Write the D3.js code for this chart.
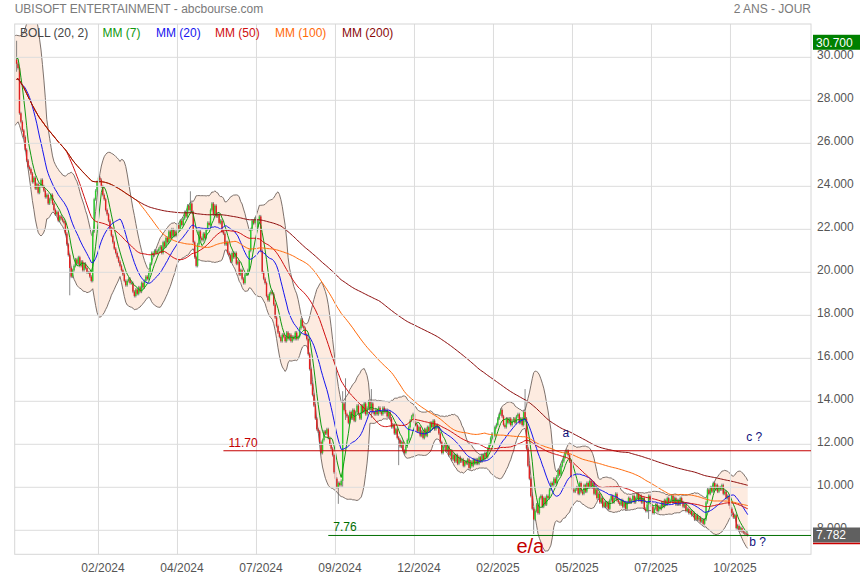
<!DOCTYPE html>
<html><head><meta charset="utf-8">
<script src="https://cdn.jsdelivr.net/npm/d3@7"></script>
<style>
body{margin:0;background:#fff}
svg{display:block}
text{font-family:Arial,"Liberation Sans",sans-serif}
</style>
</head><body>
<svg id="c" width="860" height="580"></svg>
<script>
// ---------------- DATA ----------------
const chartTitle = "UBISOFT ENTERTAINMENT - abcbourse.com";
const periodLabel = "2 ANS - JOUR";
// closes before the visible window (used only by the indicators)
const priorCloses = [27.2,27.5,27.9,27.6,28.1,28.4,28.9,29.3,29.0,29.6,30.1,30.4,29.8,30.2,29.9];
// daily closes of the visible window
const closes = [
29.7,29.5,27.4,27.0,26.6,26.3,25.7,25.2,24.9,24.8,
24.6,24.2,24.4,23.9,24.1,23.7,24.0,24.3,24.0,23.8,
23.5,23.6,23.2,23.4,23.6,23.2,22.9,22.7,22.8,22.4,
22.6,22.5,22.4,22.3,21.8,21.3,20.8,20.2,19.8,20.1,
20.3,20.6,20.4,20.7,20.3,20.5,20.1,20.4,20.2,20.0,
20.0,19.8,19.6,21.9,23.4,23.8,24.2,24.4,24.3,24.0,
23.6,23.4,22.9,22.7,22.4,22.0,21.7,21.4,21.1,20.9,
20.7,20.5,20.3,20.1,19.9,19.6,19.4,19.6,19.7,19.5,
19.5,19.1,18.9,19.2,19.0,19.3,19.1,19.5,19.3,19.6,
19.8,19.7,20.0,20.4,20.9,20.8,21.0,20.9,21.0,21.1,
21.2,20.9,21.4,21.2,21.6,21.4,21.9,21.6,22.0,21.7,
21.9,21.7,22.2,22.0,22.4,22.2,22.5,22.8,22.6,23.1,
22.9,23.2,22.8,21.4,20.7,20.3,21.3,21.9,21.6,21.5,
21.8,21.6,22.0,22.3,22.2,22.9,23.2,22.7,23.1,22.6,
22.7,22.3,22.4,21.9,21.8,21.3,21.4,20.9,20.8,20.5,
20.9,20.7,20.9,20.4,20.5,19.9,20.1,19.7,19.5,19.9,
19.9,20.1,21.0,22.0,22.4,22.3,22.5,22.1,22.4,22.6,
21.0,20.0,19.7,19.5,18.9,18.7,19.0,19.1,19.0,18.5,
17.9,17.5,17.2,17.0,16.8,17.1,17.0,16.8,17.2,16.9,
17.1,16.8,17.0,16.9,17.2,16.9,17.0,17.4,17.8,17.5,
17.4,17.1,16.9,16.2,15.5,14.8,14.3,13.8,13.2,12.7,
12.6,12.1,11.6,12.2,12.6,12.5,12.7,12.3,12.0,11.8,
11.5,10.7,10.4,10.0,10.2,10.1,10.3,13.9,13.6,13.4,
13.3,13.0,13.5,13.2,13.6,13.1,13.5,13.8,13.4,13.2,
13.8,13.5,13.9,13.4,13.7,14.0,13.6,13.9,13.5,13.4,
13.6,13.4,13.7,13.5,13.4,13.7,13.5,13.6,13.3,13.5,
13.2,12.8,12.9,12.5,12.7,12.3,12.2,11.9,12.1,11.7,
11.6,11.9,12.2,12.8,13.1,13.3,13.4,13.0,12.9,12.6,
12.8,12.4,12.6,12.3,12.7,12.4,12.8,12.6,13.0,12.8,
13.1,12.7,12.9,12.8,12.5,12.1,11.6,11.9,12.0,11.7,
11.9,11.5,11.7,11.3,11.5,11.2,11.5,11.1,11.4,11.2,
11.3,11.0,11.2,11.1,11.3,10.9,11.2,11.0,11.3,11.1,
11.3,11.1,11.4,11.2,11.5,11.3,11.6,11.4,11.8,12.0,
12.3,12.5,12.4,12.8,12.9,13.2,13.4,13.6,13.3,12.9,
12.8,13.2,13.0,13.2,12.9,13.1,13.2,13.0,13.3,13.4,
13.0,13.2,12.9,13.5,13.2,11.8,11.0,10.4,9.6,9.0,
8.5,8.9,9.2,8.8,9.5,9.6,9.1,9.5,9.2,9.6,
9.5,9.9,10.2,10.1,10.4,10.2,10.5,10.8,10.6,11.0,
11.2,11.4,11.6,11.7,11.5,11.2,10.5,9.9,9.8,9.9,
10.0,9.7,10.2,9.8,9.7,10.1,9.8,10.2,10.0,10.3,
10.0,10.2,9.7,9.9,9.5,9.7,9.3,9.5,9.1,9.3,
9.1,9.3,9.0,9.4,9.6,9.3,9.5,9.7,9.4,9.3,
9.2,9.4,9.1,9.3,9.0,9.3,9.5,9.3,9.4,9.6,
9.3,9.5,9.7,9.4,9.6,9.3,9.5,9.0,8.9,9.2,
9.6,9.4,9.1,8.8,9.0,9.2,8.9,9.1,9.0,9.3,
9.1,9.4,9.2,9.5,9.3,9.4,9.6,9.3,9.5,9.2,
9.4,9.2,9.5,9.3,9.1,9.2,8.9,9.0,8.8,8.9,
8.7,8.8,8.5,8.7,8.5,8.6,8.4,8.5,8.3,8.5,
9.3,9.9,9.7,10.0,9.8,10.2,9.9,10.1,9.8,10.0,
9.9,10.1,9.7,9.8,9.5,9.6,9.2,9.0,8.8,8.6,
8.7,8.1,8.2,8.0,8.1,7.95,7.9,7.85,7.82,7.782
];
// notable intraday extremes: [candle index, low, high]
const wickExtremes = [[0,29.4,30.7],[37,19.0,20.3],[121,22.8,23.7],[224,9.3,10.2],[227,10.1,14.4],[229,13.2,15.0],[247,13.3,14.5],[354,13.1,14.5],[360,7.9,8.9],[440,8.6,9.3],[266,11.1,12.2]];
const xTickIndex = [57,112,167,222,277,332,387,442,497];
const xTickLabels = ["02/2024","04/2024","07/2024","09/2024","12/2024","02/2025","05/2025","07/2025","10/2025"];
const yTickValues = [8,10,12,14,16,18,20,22,24,26,28,30];
const maPeriods = [7,20,50,100,200];
const maColors = ["#119911","#1515ee","#d01010","#ff6a0a","#8b0a0a"];
const levelValues = [11.70, 7.76];
const levelStartIndex = [144, 217];
const levelColors = ["#c40000","#006e00"];
const levelLabels = ["11.70","7.76"];
const notes = [{t:"a",i:380,v:12.35,c:"#10107a",s:12},{t:"c ?",i:508,v:12.15,c:"#10107a",s:12},{t:"b ?",i:510,v:7.25,c:"#10107a",s:12},{t:"e/a",i:348,v:6.95,c:"#c40000",s:20}];
const maxValue = 30.700, lastValue = 7.782;

// ---------------- CHART ----------------
const svg = d3.select("#c");
const L = 14.7, R = 811, T = 24, B = 554.3;
const x = d3.scaleLinear().domain([0, closes.length - 1]).range([16.6, 747.7]);
const y = d3.scaleLinear().domain([6.884, 31.55]).range([B, T]);

const P = priorCloses.length;
const all = priorCloses.concat(closes);
const win = (n, j) => all.slice(Math.max(0, j - n + 1), j + 1);
const sma = (n, j) => d3.mean(win(n, j));
const boll = j => { const w = win(20, j), m = d3.mean(w); const sd = Math.sqrt(d3.mean(w, v => (v - m) ** 2)); return [m - 2 * sd, m + 2 * sd]; };

svg.append("defs").append("clipPath").attr("id", "pc").append("rect")
  .attr("x", L).attr("y", T).attr("width", R - L).attr("height", B - T);

// titles
svg.append("text").attr("x", L).attr("y", 13).attr("font-size", 12).attr("fill", "#7a7a7a").text(chartTitle);
svg.append("text").attr("x", R).attr("y", 13).attr("text-anchor", "end").attr("font-size", 12).attr("fill", "#7a7a7a").text(periodLabel);

const plot = svg.append("g").attr("clip-path", "url(#pc)");

// bollinger band
const bandIdx = d3.range(-2, closes.length);
const bandData = bandIdx.map(i => { const b = boll(P + i); return {i, lo: b[0], hi: b[1]}; });
plot.append("path").datum(bandData)
  .attr("d", d3.area().x(d => x(d.i)).y0(d => y(d.lo)).y1(d => y(d.hi)))
  .attr("fill", "#fdebe0");

// grid
const grid = svg.append("g");
yTickValues.forEach(v => grid.append("line").attr("x1", L).attr("x2", R).attr("y1", y(v)).attr("y2", y(v)).attr("stroke", "#dcdcdc"));
xTickIndex.forEach(i => grid.append("line").attr("x1", x(i)).attr("x2", x(i)).attr("y1", T).attr("y2", B).attr("stroke", "#dcdcdc"));
svg.append("rect").attr("x", L).attr("y", T).attr("width", R - L).attr("height", B - T).attr("fill", "none").attr("stroke", "#d6d6d6");

// band outlines
["lo","hi"].forEach(k => plot.append("path").datum(bandData)
  .attr("d", d3.line().x(d => x(d.i)).y(d => y(d[k])))
  .attr("fill", "none").attr("stroke", "#6e625c").attr("stroke-width", 0.9));

// levels
levelValues.forEach((v, k) => {
  svg.append("line").attr("x1", x(levelStartIndex[k])).attr("x2", R).attr("y1", y(v)).attr("y2", y(v))
    .attr("stroke", levelColors[k]).attr("stroke-width", 1);
  svg.append("text").attr("x", x(levelStartIndex[k]) + 5).attr("y", y(v) - 4).attr("font-size", 12)
    .attr("fill", levelColors[k]).text(levelLabels[k]);
});

// candles
const ext = new Map(wickExtremes.map(d => [d[0], d]));
const candles = closes.map((c, i) => {
  const o = all[P + i - 1];
  let lo = Math.min(o, c), hi = Math.max(o, c);
  if (ext.has(i)) { lo = Math.min(lo, ext.get(i)[1]); hi = Math.max(hi, ext.get(i)[2]); }
  return {i, o, c, lo, hi};
});
const cg = plot.append("g");
cg.selectAll("line.w").data(candles).join("line")
  .attr("x1", d => x(d.i)).attr("x2", d => x(d.i))
  .attr("y1", d => y(d.hi) - 1.5).attr("y2", d => y(d.lo) + 1.5)
  .attr("stroke", "#555").attr("stroke-width", 0.7);
cg.selectAll("rect").data(candles).join("rect")
  .attr("x", d => x(d.i) - 0.7).attr("width", 1.4)
  .attr("y", d => y(Math.max(d.o, d.c)))
  .attr("height", d => Math.max(1, Math.abs(y(d.o) - y(d.c))))
  .attr("fill", d => d.c >= d.o ? "#2bd12b" : "#e02020");

// moving averages
maPeriods.forEach((n, k) => {
  const pts = d3.range(0, closes.length).map(i => ({i, v: sma(n, P + i)}));
  plot.append("path").datum(pts).attr("d", d3.line().x(d => x(d.i)).y(d => y(d.v)))
    .attr("fill", "none").attr("stroke", maColors[k]).attr("stroke-width", 1);
});

// legend
const legendItems = ["BOLL (20, 2)", ...maPeriods.map(n => `MM (${n})`)];
const legendColors = ["#444", ...maColors];
const legendX = [20, 102.5, 156, 215, 275, 342];
legendItems.forEach((t, k) => svg.append("text").attr("x", legendX[k]).attr("y", 36.5)
  .attr("font-size", 12).attr("fill", legendColors[k]).text(t));

// annotations
notes.forEach(n => svg.append("text").attr("x", x(n.i)).attr("y", y(n.v)).attr("font-size", n.s)
  .attr("fill", n.c).text(n.t));

// y axis
const yAxis = svg.append("g").attr("transform", `translate(${R},0)`)
  .call(d3.axisRight(y).tickValues(yTickValues).tickFormat(d3.format(".3f")).tickSize(0).tickPadding(6));
yAxis.select(".domain").remove();
yAxis.selectAll("text").attr("font-size", 12).attr("fill", "#555").attr("font-family", "Arial, Liberation Sans, sans-serif").attr("dy", "0.1em");

// x axis
const xAxis = svg.append("g").attr("transform", `translate(0,${B})`)
  .call(d3.axisBottom(x).tickValues(xTickIndex).tickFormat((d, k) => xTickLabels[k]).tickSize(0).tickPadding(9));
xAxis.select(".domain").remove();
xAxis.selectAll("text").attr("font-size", 12).attr("fill", "#555").attr("font-family", "Arial, Liberation Sans, sans-serif").attr("dx", "4");

// value boxes
const box = (v, fill, line) => {
  const g = svg.append("g");
  g.append("rect").attr("x", 813).attr("y", y(v) - 7.5).attr("width", 47).attr("height", 15).attr("fill", fill);
  g.append("text").attr("x", 816).attr("y", y(v) + 4.5).attr("font-size", 12).attr("fill", "#fff").text(d3.format(".3f")(v));
  if (line) g.append("line").attr("x1", 813).attr("x2", 860).attr("y1", y(v) + 8.5).attr("y2", y(v) + 8.5).attr("stroke", line).attr("stroke-width", 1.5);
};
box(maxValue, "#008000");
box(lastValue, "#606060", "#cc0000");
</script>
</body></html>
